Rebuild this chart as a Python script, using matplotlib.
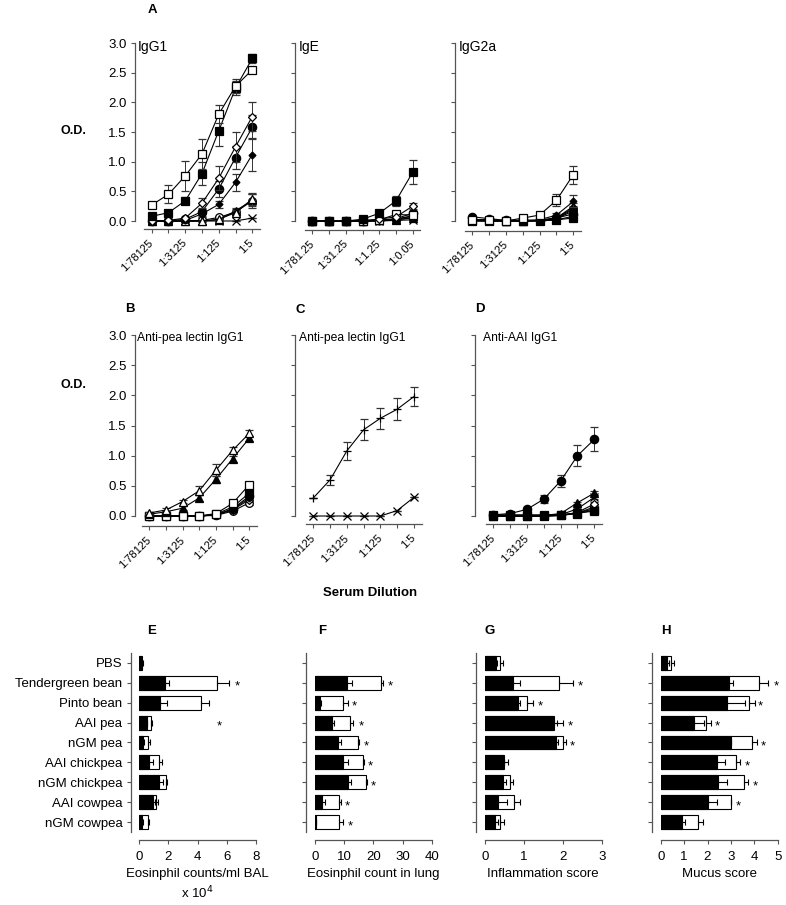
import numpy as np
import matplotlib
matplotlib.use("Agg")
import matplotlib.pyplot as plt

plt.rcParams['font.family'] = ['Liberation Sans', 'DejaVu Sans']

W, H = 786, 905

# ── Data: serum dilution curves (O.D.) ───────────────────────
dil = np.arange(7)
dil_labels = ["1:78125", "", "1:3125", "", "1:125", "", "1:5"]
dil_labels_ige = ["1:781.25", "", "1:31.25", "", "1:1.25", "", "1:0.05"]

igg1_mean = {
    "x":       [0, 0, 0, 0, 0, 0, 0.05],
    "ci_open": [0, 0, 0, 0.01, 0.06, 0.15, 0.34],
    "tr_fill": [0, 0, 0, 0, 0.02, 0.17, 0.35],
    "tr_open": [0, 0, 0, 0, 0.03, 0.14, 0.37],
    "di_fill": [0, 0, 0.01, 0.12, 0.28, 0.65, 1.12],
    "ci_fill": [0, 0, 0.03, 0.16, 0.54, 1.07, 1.58],
    "di_open": [0, 0.01, 0.05, 0.30, 0.72, 1.25, 1.76],
    "sq_fill": [0.08, 0.14, 0.34, 0.80, 1.52, 2.24, 2.74],
    "sq_open": [0.27, 0.45, 0.76, 1.13, 1.80, 2.27, 2.55],
}
igg1_err = {
    "x":       [0, 0, 0, 0, 0, 0, 0],
    "ci_open": [0, 0, 0, 0, 0.02, 0.05, 0.12],
    "tr_fill": [0, 0, 0, 0, 0.01, 0.05, 0.10],
    "tr_open": [0, 0, 0, 0, 0.01, 0.05, 0.10],
    "di_fill": [0, 0, 0, 0.03, 0.06, 0.15, 0.28],
    "ci_fill": [0, 0, 0.01, 0.05, 0.13, 0.20, 0.20],
    "di_open": [0, 0, 0.02, 0.08, 0.20, 0.25, 0.25],
    "sq_fill": [0.03, 0.04, 0.06, 0.20, 0.25, 0.12, 0.07],
    "sq_open": [0.05, 0.15, 0.25, 0.25, 0.15, 0.12, 0.05],
}

ige_mean = {
    "x":       [0, 0, 0, 0, 0, 0.01, 0.02],
    "di_fill": [0, 0, 0, 0, 0, 0.02, 0.06],
    "tr_fill": [0, 0, 0, 0, 0.01, 0.02, 0.05],
    "tr_open": [0, 0, 0, 0, 0.01, 0.03, 0.08],
    "ci_open": [0, 0, 0, 0, 0.01, 0.03, 0.09],
    "ci_fill": [0, 0, 0, 0, 0.01, 0.04, 0.13],
    "sq_open": [0, 0, 0, 0, 0.02, 0.11, 0.10],
    "di_open": [0, 0, 0, 0.01, 0.03, 0.07, 0.25],
    "sq_fill": [0, 0, 0, 0.03, 0.13, 0.34, 0.82],
}
ige_err = {
    "x":       [0, 0, 0, 0, 0, 0, 0],
    "di_fill": [0, 0, 0, 0, 0, 0.01, 0.02],
    "tr_fill": [0, 0, 0, 0, 0, 0.01, 0.02],
    "tr_open": [0, 0, 0, 0, 0, 0.01, 0.03],
    "ci_open": [0, 0, 0, 0, 0, 0.01, 0.03],
    "ci_fill": [0, 0, 0, 0, 0, 0.02, 0.04],
    "sq_open": [0, 0, 0, 0, 0.01, 0.03, 0.04],
    "di_open": [0, 0, 0, 0, 0.01, 0.02, 0.05],
    "sq_fill": [0, 0, 0, 0.02, 0.04, 0.08, 0.20],
}

igg2a_mean = {
    "sq_fill": [0, 0, 0, 0, 0, 0.02, 0.05],
    "x":       [0, 0, 0, 0, 0, 0.02, 0.08],
    "ci_open": [0.02, 0.02, 0, 0, 0.01, 0.04, 0.17],
    "tr_open": [0.01, 0.01, 0, 0, 0.01, 0.04, 0.20],
    "di_open": [0.01, 0, 0, 0, 0.01, 0.05, 0.22],
    "tr_fill": [0.02, 0.01, 0, 0, 0.01, 0.05, 0.25],
    "di_fill": [0.02, 0.02, 0.01, 0.01, 0.02, 0.10, 0.33],
    "ci_fill": [0.07, 0.04, 0.01, 0.01, 0.01, 0.05, 0.12],
    "sq_open": [0.02, 0.01, 0, 0.05, 0.10, 0.35, 0.78],
}
igg2a_err = {
    "sq_fill": [0, 0, 0, 0, 0, 0.01, 0.02],
    "x":       [0, 0, 0, 0, 0, 0, 0],
    "ci_open": [0, 0, 0, 0, 0, 0.01, 0.03],
    "tr_open": [0, 0, 0, 0, 0, 0.01, 0.03],
    "di_open": [0, 0, 0, 0, 0, 0.01, 0.04],
    "tr_fill": [0, 0, 0, 0, 0, 0.02, 0.05],
    "di_fill": [0, 0, 0, 0, 0, 0.03, 0.10],
    "ci_fill": [0.01, 0.01, 0, 0, 0, 0.01, 0.03],
    "sq_open": [0.02, 0.02, 0.02, 0.02, 0.03, 0.10, 0.15],
}

peaB_mean = {
    "ci_open": [0, 0, 0, 0, 0.01, 0.08, 0.22],
    "di_open": [0, 0, 0, 0, 0.02, 0.10, 0.27],
    "di_fill": [0, 0, 0, 0, 0.02, 0.11, 0.30],
    "ci_fill": [0, 0, 0, 0, 0.02, 0.12, 0.33],
    "sq_fill": [0, 0, 0, 0, 0.03, 0.15, 0.38],
    "sq_open": [0, 0, 0, 0, 0.04, 0.21, 0.52],
    "tr_fill": [0.03, 0.07, 0.13, 0.30, 0.61, 0.95, 1.29],
    "tr_open": [0.05, 0.10, 0.24, 0.42, 0.76, 1.09, 1.37],
}
peaB_err = {
    "ci_open": [0, 0, 0, 0, 0.01, 0.02, 0.03],
    "di_open": [0, 0, 0, 0, 0.01, 0.02, 0.03],
    "di_fill": [0, 0, 0, 0, 0.01, 0.02, 0.03],
    "ci_fill": [0, 0, 0, 0, 0.01, 0.02, 0.04],
    "sq_fill": [0, 0, 0, 0, 0.01, 0.02, 0.04],
    "sq_open": [0, 0, 0, 0, 0.01, 0.03, 0.04],
    "tr_fill": [0.01, 0.02, 0.03, 0.05, 0.06, 0.05, 0.04],
    "tr_open": [0.02, 0.03, 0.03, 0.08, 0.10, 0.05, 0.05],
}

peaC_mean = {
    "x":    [0, 0, 0, 0, 0, 0.09, 0.31],
    "plus": [0.30, 0.60, 1.08, 1.43, 1.62, 1.77, 1.98],
}
peaC_err = {
    "x":    [0, 0, 0, 0, 0, 0, 0],
    "plus": [0, 0.08, 0.15, 0.17, 0.17, 0.18, 0.15],
}

aaiD_mean = {
    "sq_open": [0, 0, 0, 0, 0.01, 0.04, 0.10],
    "di_fill": [0, 0, 0, 0, 0.01, 0.05, 0.12],
    "ci_open": [0, 0, 0, 0, 0.01, 0.05, 0.15],
    "di_open": [0, 0, 0, 0, 0.01, 0.06, 0.20],
    "x":       [0, 0, 0, 0, 0.02, 0.12, 0.31],
    "tr_fill": [0, 0, 0, 0.01, 0.04, 0.22, 0.38],
    "sq_fill": [0.02, 0.02, 0.02, 0.02, 0.02, 0.05, 0.08],
    "ci_fill": [0.02, 0.04, 0.11, 0.28, 0.58, 1.00, 1.27],
}
aaiD_err = {
    "sq_open": [0, 0, 0, 0, 0, 0.01, 0.02],
    "di_fill": [0, 0, 0, 0, 0, 0.01, 0.02],
    "ci_open": [0, 0, 0, 0, 0, 0.01, 0.02],
    "di_open": [0, 0, 0, 0, 0, 0.01, 0.03],
    "x":       [0, 0, 0, 0, 0, 0.02, 0.03],
    "tr_fill": [0, 0, 0, 0, 0.01, 0.02, 0.04],
    "sq_fill": [0, 0, 0, 0, 0, 0.01, 0.02],
    "ci_fill": [0.01, 0.01, 0.02, 0.07, 0.10, 0.17, 0.20],
}

# ── Data: bar panels ─────────────────────────────────────────
groups = ["PBS", "Tendergreen bean", "Pinto bean", "AAI pea", "nGM pea",
          "AAI chickpea", "nGM chickpea", "AAI cowpea", "nGM cowpea"]

bal_black = [0.20, 1.76, 1.42, 0.50, 0.27, 0.69, 1.35, 0.91, 0.18]
bal_black_err = [0.02, 0.30, 0.50, 0.05, 0.05, 0.27, 0.30, 0.15, 0.05]
bal_white = [0.15, 5.30, 4.20, 0.78, 0.62, 1.37, 1.83, 1.14, 0.57]
bal_white_err = [0.0, 0.85, 0.60, 0.09, 0.11, 0.18, 0.09, 0.12, 0.12]
bal_star = [None, 6.7, None, 5.5, None, None, None, None, None]

lung_black = [0, 10.9, 1.7, 5.7, 8.0, 9.7, 11.4, 2.5, 0.3]
lung_black_err = [0, 1.7, 0.3, 0.8, 0.9, 1.7, 0.8, 0.9, 0]
lung_white = [0, 22.5, 9.5, 12.0, 14.6, 16.3, 17.4, 8.2, 8.1]
lung_white_err = [0, 0.9, 1.7, 0.9, 0.6, 0.6, 0.3, 0.6, 1.6]
lung_star = [None, 25.7, 13.4, 15.7, 17.5, 19.1, 20.0, 10.9, 12.0]

infl_black = [0.28, 0.73, 0.86, 1.74, 1.82, 0.45, 0.45, 0.34, 0.26]
infl_black_err = [0.03, 0.17, 0.05, 0.10, 0.05, 0.05, 0.09, 0.22, 0.08]
infl_white = [0.39, 1.91, 1.09, 1.77, 2.00, 0.50, 0.63, 0.75, 0.39]
infl_white_err = [0.08, 0.34, 0.14, 0.24, 0.08, 0.10, 0.10, 0.15, 0.10]
infl_star = [None, 2.46, 1.41, 2.19, 2.25, None, None, None, None]

mucus_black = [0.26, 2.90, 2.82, 1.42, 2.99, 2.39, 2.46, 2.01, 0.90]
mucus_black_err = [0.10, 0.20, 0.78, 0.43, 0, 0.36, 0.39, 0.41, 0.14]
mucus_white = [0.43, 4.20, 3.79, 1.94, 3.89, 3.22, 3.58, 2.99, 1.61]
mucus_white_err = [0.15, 0.40, 0.24, 0.20, 0.24, 0.17, 0.17, 0, 0.18]
mucus_star = [None, 4.95, 4.27, 2.42, 4.39, 3.68, 4.06, 3.33, None]

# marker styles: key -> (marker, face, size)
STYLE = {
    "sq_open": ("s", "white", 5.5),
    "sq_fill": ("s", "black", 5.5),
    "di_open": ("D", "white", 4.5),
    "di_fill": ("D", "black", 3.5),
    "ci_fill": ("o", "black", 6),
    "ci_open": ("o", "white", 5.5),
    "tr_fill": ("^", "black", 5.5),
    "tr_open": ("^", "white", 5.5),
    "x":       ("x", "none", 6),
    "plus":    ("+", "none", 6),
}
SPINE = "#555555"
PX = 72 / 100  # points per pixel at dpi 100

fig = plt.figure(figsize=(W / 100, H / 100), dpi=100)


def px_axes(left, right, top, bottom):
    return fig.add_axes([left / W, 1 - bottom / H, (right - left) / W, (bottom - top) / H])


def px_text(x, y, s, **kw):
    fig.text(x / W, 1 - y / H, s, **kw)


def style_axes(ax, yspine, xspine, left, bottom):
    for side in ("top", "right"):
        ax.spines[side].set_visible(False)
    ax.spines["left"].set_position(("outward", (left - yspine) * PX))
    ax.spines["bottom"].set_position(("outward", (xspine - bottom) * PX))
    for side in ("left", "bottom"):
        ax.spines[side].set_color(SPINE)
        ax.spines[side].set_linewidth(0.9)
    ax.tick_params(color=SPINE, width=0.8, length=3)


def line_panel(left, right, y0, y3, xspine, yspine, means, errs, title, tx, tsize, labels, ylabels):
    ax = px_axes(left, right, y3, y0)
    ax.set_xlim(-0.45, 6.45)
    ax.set_ylim(0, 3)
    for z, key in enumerate(means):
        mk, face, ms = STYLE[key]
        ax.errorbar(dil, means[key], yerr=errs[key], color="black", lw=0.8,
                    marker=mk, mfc=face, mec="black", ms=ms, mew=0.9,
                    ecolor="#333333", elinewidth=0.7, capsize=3, capthick=0.7,
                    clip_on=False, zorder=3 + z)
    style_axes(ax, yspine, xspine, left, y0)
    ax.set_xticks(dil)
    ax.set_xticklabels(labels, rotation=45, ha="right", va="center",
                       rotation_mode="anchor", fontsize=8)
    ax.tick_params(axis="x", pad=6)
    ax.set_yticks(np.arange(0, 3.01, 0.5))
    if ylabels:
        ax.set_yticklabels([f"{v:.1f}" for v in np.arange(0, 3.01, 0.5)], fontsize=9.5)
        ax.tick_params(axis="y", pad=3)
    else:
        ax.set_yticklabels([])
    px_text(tx, y3 - 3, title, fontsize=tsize, va="top", ha="left")
    return ax


def bar_panel(left, right, xmax, xticks, black, black_err, white, white_err, stars, show_cats):
    top, bottom = 652.7, 832.3
    ax = px_axes(left, right, top, bottom)
    y = np.arange(len(groups))
    black = np.array(black, float)
    white = np.array(white, float)
    zeros = np.zeros(len(y))
    mw = white > 0
    mb = black > 0
    ax.barh(y[mw], white[mw], height=0.7, color="white", edgecolor="black", lw=0.8, zorder=2)
    ax.errorbar(white[mw], y[mw], xerr=[zeros[mw], np.array(white_err)[mw]], fmt="none",
                ecolor="black", elinewidth=0.8, capsize=2.5, capthick=0.8, zorder=3)
    ax.barh(y[mb], black[mb], height=0.7, color="black", edgecolor="black", lw=0.8, zorder=4)
    ax.errorbar(black[mb], y[mb], xerr=[zeros[mb], np.array(black_err)[mb]], fmt="none",
                ecolor="black", elinewidth=0.8, capsize=2.5, capthick=0.8, zorder=5)
    for yi, s in zip(y, stars):
        if s is not None:
            ax.text(s, yi + 0.2, "*", ha="center", va="center", fontsize=9.5)
    ax.set_xlim(0, xmax)
    ax.set_ylim(len(groups) - 0.5, -0.5)
    style_axes(ax, left - 8.6, 840, left, bottom)
    ax.set_xticks(xticks)
    ax.set_xticklabels([str(t) for t in xticks], fontsize=9.5)
    ax.tick_params(axis="x", pad=5)
    ax.set_yticks(y)
    if show_cats:
        ax.set_yticklabels(groups, fontsize=9.5)
        ax.tick_params(axis="y", pad=3)
    else:
        ax.set_yticklabels([])
    return ax


# ── Row 1: total IgG1 / IgE / IgG2a ──────────────────────────
line_panel(144.2, 259.8, 221, 43, 228.5, 135, igg1_mean, igg1_err, "IgG1", 138, 10, dil_labels, True)
line_panel(304.8, 420.2, 221, 43, 229.5, 295, ige_mean, ige_err, "IgE", 299, 10, dil_labels_ige, False)
line_panel(464.7, 580.9, 221, 43, 230.5, 455, igg2a_mean, igg2a_err, "IgG2a", 459, 10, dil_labels, False)

# ── Row 2: lectin-specific IgG1 ──────────────────────────────
line_panel(141.8, 256.8, 516, 335, 526, 135, peaB_mean, peaB_err, "Anti-pea lectin IgG1", 137, 8.7, dil_labels, True)
line_panel(305.8, 421.5, 516, 335, 524, 295, peaC_mean, peaC_err, "Anti-pea lectin IgG1", 299, 8.7, dil_labels, False)
line_panel(485.7, 601.9, 516, 335, 524, 475, aaiD_mean, aaiD_err, "Anti-AAI IgG1", 483, 8.7, dil_labels, False)

# ── Row 3: bar panels ────────────────────────────────────────
bar_panel(139.3, 256.0, 8, [0, 2, 4, 6, 8], bal_black, bal_black_err, bal_white, bal_white_err, bal_star, True)
bar_panel(315.0, 431.7, 40, [0, 10, 20, 30, 40], lung_black, lung_black_err, lung_white, lung_white_err, lung_star, False)
bar_panel(485.0, 601.7, 3, [0, 1, 2, 3], infl_black, infl_black_err, infl_white, infl_white_err, infl_star, False)
bar_panel(660.7, 777.7, 5, [0, 1, 2, 3, 4, 5], mucus_black, mucus_black_err, mucus_white, mucus_white_err, mucus_star, False)

# labels
for lbl, x, y in [("A", 152, 10), ("B", 130, 309), ("C", 300, 310), ("D", 480, 309),
                  ("E", 152, 631), ("F", 322, 631), ("G", 490, 631), ("H", 666, 631)]:
    px_text(x, y, lbl, fontsize=9.5, fontweight="bold", ha="center", va="center")
px_text(73, 131, "O.D.", fontsize=9, fontweight="bold", ha="center", va="center")
px_text(73, 385, "O.D.", fontsize=9, fontweight="bold", ha="center", va="center")
px_text(370, 593, "Serum Dilution", fontsize=9.5, fontweight="bold", ha="center", va="center")

px_text(197.6, 874, "Eosinphil counts/ml BAL", fontsize=9.5, ha="center", va="center")
px_text(197.6, 893, "x 10$^4$", fontsize=9.5, ha="center", va="center")
px_text(373.3, 874, "Eosinphil count in lung", fontsize=9.5, ha="center", va="center")
px_text(543.3, 874, "Inflammation score", fontsize=9.5, ha="center", va="center")
px_text(719.2, 874, "Mucus score", fontsize=9.5, ha="center", va="center")

fig.savefig("out.png", dpi=100)
